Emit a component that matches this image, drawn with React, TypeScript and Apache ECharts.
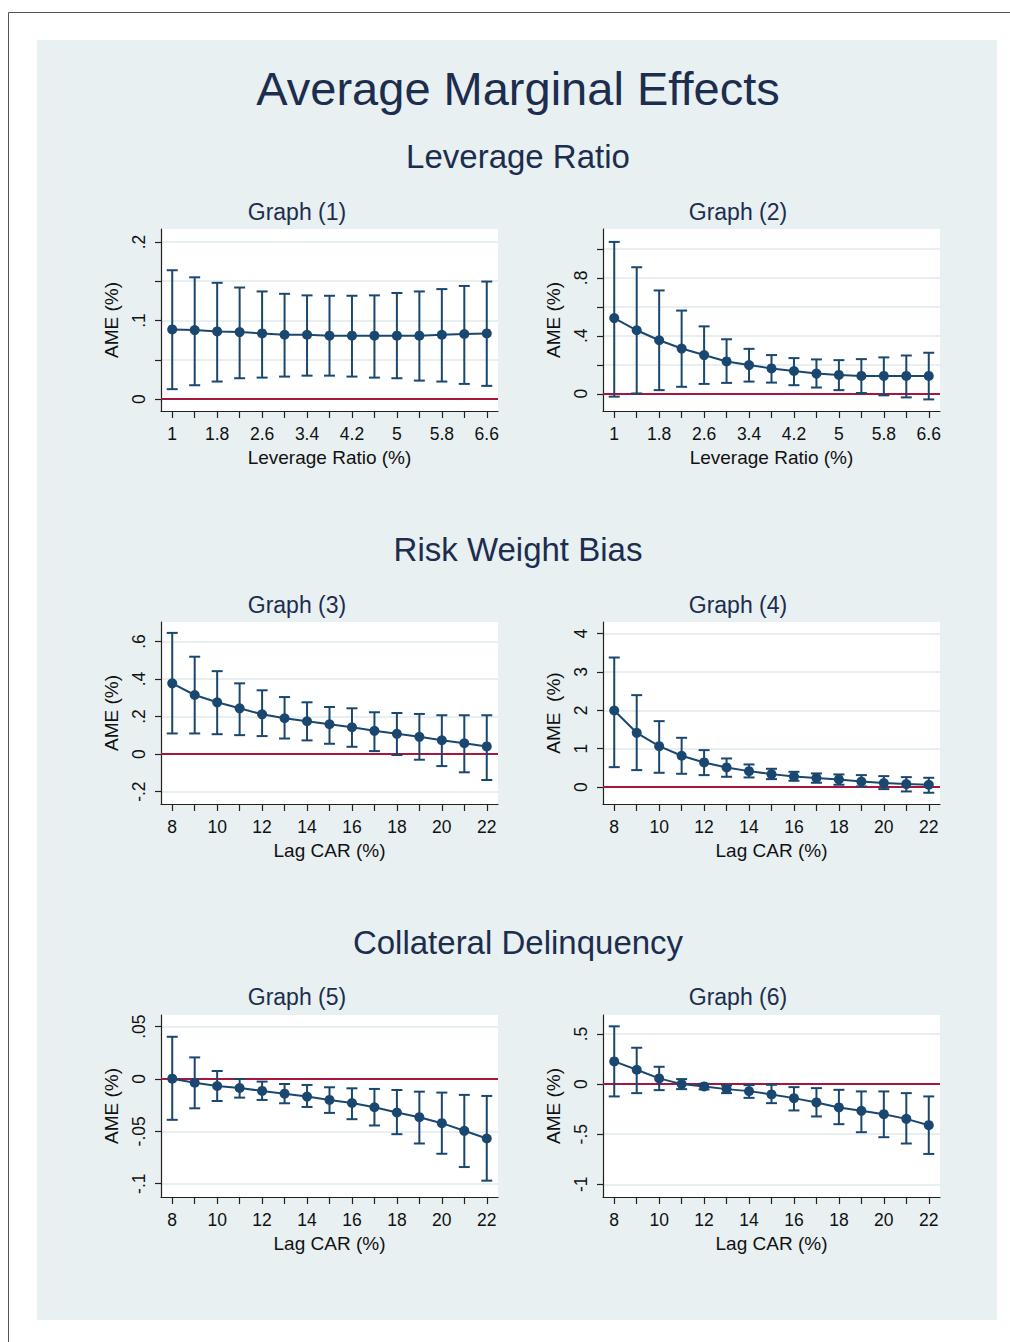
import React, { useEffect, useRef } from "react";
import * as echarts from "echarts";

// ---------- data ----------
const leverageCats = ["1", "1.4", "1.8", "2.2", "2.6", "3", "3.4", "3.8", "4.2", "4.6", "5", "5.4", "5.8", "6.2", "6.6"];
const carCats = ["8", "9", "10", "11", "12", "13", "14", "15", "16", "17", "18", "19", "20", "21", "22"];

const g1Est = [0.0887, 0.0878, 0.0861, 0.0853, 0.0836, 0.0819, 0.0819, 0.0807, 0.0807, 0.0807, 0.0807, 0.0807, 0.0819, 0.0828, 0.0836];
const g1Hi = [0.164, 0.155, 0.148, 0.142, 0.137, 0.134, 0.132, 0.1315, 0.1315, 0.132, 0.135, 0.137, 0.14, 0.144, 0.1496];
const g1Lo = [0.0126, 0.0176, 0.0223, 0.0265, 0.0273, 0.0286, 0.0298, 0.0298, 0.0286, 0.0273, 0.0265, 0.0235, 0.0223, 0.0193, 0.0168];

const g2Est = [0.522, 0.438, 0.369, 0.312, 0.267, 0.223, 0.198, 0.175, 0.157, 0.139, 0.13, 0.123, 0.123, 0.123, 0.123];
const g2Hi = [1.048, 0.873, 0.713, 0.574, 0.465, 0.376, 0.31, 0.267, 0.246, 0.237, 0.232, 0.239, 0.251, 0.264, 0.283];
const g2Lo = [-0.02, 0.002, 0.025, 0.048, 0.068, 0.075, 0.084, 0.077, 0.059, 0.043, 0.025, 0.005, -0.011, -0.025, -0.039];

const g3Est = [0.377, 0.315, 0.276, 0.244, 0.212, 0.191, 0.175, 0.159, 0.143, 0.124, 0.108, 0.092, 0.074, 0.058, 0.041];
const g3Hi = [0.646, 0.519, 0.442, 0.377, 0.34, 0.304, 0.276, 0.251, 0.244, 0.223, 0.219, 0.214, 0.207, 0.207, 0.207];
const g3Lo = [0.11, 0.11, 0.106, 0.101, 0.096, 0.083, 0.073, 0.055, 0.039, 0.016, -0.005, -0.03, -0.064, -0.097, -0.138];

const g4Est = [1.996, 1.414, 1.067, 0.816, 0.642, 0.512, 0.416, 0.338, 0.278, 0.234, 0.2, 0.147, 0.104, 0.078, 0.061];
const g4Hi = [3.375, 2.395, 1.718, 1.284, 0.963, 0.746, 0.59, 0.477, 0.399, 0.356, 0.33, 0.312, 0.286, 0.26, 0.243];
const g4Lo = [0.52, 0.443, 0.373, 0.347, 0.312, 0.269, 0.252, 0.208, 0.165, 0.113, 0.061, 0.017, -0.052, -0.113, -0.147];

const g5Est = [0.0003, -0.0035, -0.0067, -0.0086, -0.0114, -0.014, -0.0168, -0.02, -0.0229, -0.027, -0.032, -0.0365, -0.0422, -0.0495, -0.0568];
const g5Hi = [0.0403, 0.0206, 0.0076, 0.0, -0.0025, -0.0048, -0.0057, -0.0079, -0.0089, -0.0095, -0.0105, -0.0121, -0.013, -0.0152, -0.0162];
const g5Lo = [-0.039, -0.028, -0.021, -0.0178, -0.02, -0.0232, -0.0267, -0.0324, -0.0384, -0.0444, -0.0527, -0.0616, -0.0714, -0.0841, -0.0971];

const g6Est = [0.227, 0.143, 0.057, 0.0, -0.023, -0.05, -0.07, -0.103, -0.14, -0.183, -0.233, -0.267, -0.3, -0.347, -0.41];
const g6Hi = [0.577, 0.363, 0.173, 0.05, 0.003, -0.013, -0.01, -0.007, -0.03, -0.04, -0.057, -0.073, -0.073, -0.09, -0.123];
const g6Lo = [-0.123, -0.09, -0.06, -0.05, -0.053, -0.09, -0.137, -0.19, -0.263, -0.323, -0.4, -0.48, -0.53, -0.593, -0.697];

const g1Ticks = [0, 0.05, 0.1, 0.15, 0.2];
const g1Labels = [0, 0.1, 0.2];
const g2Ticks = [0, 0.2, 0.4, 0.6, 0.8, 1];
const g2Labels = [0, 0.4, 0.8];
const g3Ticks = [-0.2, 0, 0.2, 0.4, 0.6];
const g4Ticks = [0, 1, 2, 3, 4];
const g5Ticks = [-0.1, -0.05, 0, 0.05];
const g6Ticks = [-1, -0.5, 0, 0.5];

const mainTitle = "Average Marginal Effects";
const sectionTitles = ["Leverage Ratio", "Risk Weight Bias", "Collateral Delinquency"];
const graphTitles = ["Graph (1)", "Graph (2)", "Graph (3)", "Graph (4)", "Graph (5)", "Graph (6)"];
const xNames = ["Leverage Ratio (%)", "Leverage Ratio (%)", "Lag CAR (%)", "Lag CAR (%)", "Lag CAR (%)", "Lag CAR (%)"];
const yNames = ["AME (%)", "AME (%)", "AME (%)", "AME  (%)", "AME (%)", "AME (%)"];

// ---------- styling ----------
const NAVY = "#1a476f";
const RED = "#a8163c";
const GRIDC = "#e8eff1";
const TITLEC = "#1c2d4e";
const FONT = "'Liberation Sans', Arial, sans-serif";

const fmt = (v: number) => {
  const r = Math.round(v * 1000) / 1000;
  if (r === 0) return "0";
  let s = String(r);
  s = s.replace("0.", ".");
  return s;
};

type Panel = {
  cats: string[];
  est: number[];
  hi: number[];
  lo: number[];
  ticks: number[];
  labels: number[];
  min: number;
  max: number;
  left: number;
  top: number;
};

const panels: Panel[] = [
  { cats: leverageCats, est: g1Est, hi: g1Hi, lo: g1Lo, ticks: g1Ticks, labels: g1Labels, min: -0.0152, max: 0.2165, left: 161, top: 229 },
  { cats: leverageCats, est: g2Est, hi: g2Hi, lo: g2Lo, ticks: g2Ticks, labels: g2Labels, min: -0.119, max: 1.137, left: 603, top: 229 },
  { cats: carCats, est: g3Est, hi: g3Hi, lo: g3Lo, ticks: g3Ticks, labels: g3Ticks, min: -0.266, max: 0.704, left: 161, top: 622 },
  { cats: carCats, est: g4Est, hi: g4Hi, lo: g4Lo, ticks: g4Ticks, labels: g4Ticks, min: -0.44, max: 4.3, left: 603, top: 622 },
  { cats: carCats, est: g5Est, hi: g5Hi, lo: g5Lo, ticks: g5Ticks, labels: g5Ticks, min: -0.1127, max: 0.0611, left: 161, top: 1015 },
  { cats: carCats, est: g6Est, hi: g6Hi, lo: g6Lo, ticks: g6Ticks, labels: g6Ticks, min: -1.127, max: 0.69, left: 603, top: 1015 },
];

const PW = 337;
const PH = 182;

function buildOption() {
  const grid: any[] = [];
  const xAxis: any[] = [];
  const yAxis: any[] = [];
  const series: any[] = [];
  panels.forEach((p, i) => {
    grid.push({
      left: p.left,
      top: p.top,
      width: PW,
      height: PH,
      show: true,
      backgroundColor: "#ffffff",
      borderWidth: 0,
    });
    xAxis.push({
      type: "category",
      gridIndex: i,
      data: p.cats,
      boundaryGap: true,
      name: xNames[i],
      nameLocation: "middle",
      nameGap: 37,
      nameTextStyle: { fontFamily: FONT, fontSize: 19, color: "#111" },
      axisLine: { show: true, onZero: false, lineStyle: { color: "#222", width: 1.2 } },
      axisTick: { show: true, alignWithLabel: true, interval: 0, length: 7, lineStyle: { color: "#222", width: 1.2 } },
      axisLabel: { interval: 1, margin: 14, fontFamily: FONT, fontSize: 17.5, color: "#111" },
      splitLine: { show: false },
    });
    yAxis.push({
      type: "value",
      gridIndex: i,
      min: p.min,
      max: p.max,
      name: yNames[i],
      nameLocation: "middle",
      nameRotate: 90,
      nameGap: 40,
      nameTextStyle: { fontFamily: FONT, fontSize: 19, color: "#111" },
      axisLine: { show: true, onZero: false, lineStyle: { color: "#222", width: 1.2 } },
      axisTick: { show: true, length: 6, customValues: p.ticks, lineStyle: { color: "#222", width: 1.2 } },
      axisLabel: {
        rotate: 90,
        margin: 13,
        customValues: p.labels,
        formatter: (v: number) => fmt(v),
        fontFamily: FONT,
        fontSize: 17.5,
        color: "#111",
      },
      splitLine: { show: true, lineStyle: { color: GRIDC, width: 2 } },
    });
    const bars = p.cats.map((_, k) => [k, p.lo[k], p.hi[k]]);
    series.push({
      type: "custom",
      xAxisIndex: i,
      yAxisIndex: i,
      z: 3,
      data: bars,
      encode: { x: 0, y: [1, 2] },
      renderItem: (params: any, api: any) => {
        const x = api.value(0);
        const top = api.coord([x, api.value(2)]);
        const bot = api.coord([x, api.value(1)]);
        const cap = 5.5;
        const style = { stroke: NAVY, lineWidth: 2, fill: "none" };
        return {
          type: "group",
          children: [
            { type: "line", shape: { x1: top[0], y1: top[1], x2: bot[0], y2: bot[1] }, style },
            { type: "line", shape: { x1: top[0] - cap, y1: top[1], x2: top[0] + cap, y2: top[1] }, style },
            { type: "line", shape: { x1: bot[0] - cap, y1: bot[1], x2: bot[0] + cap, y2: bot[1] }, style },
          ],
        };
      },
    });
    series.push({
      type: "line",
      xAxisIndex: i,
      yAxisIndex: i,
      z: 4,
      data: p.est,
      symbol: "circle",
      symbolSize: 10,
      itemStyle: { color: NAVY },
      lineStyle: { color: NAVY, width: 2 },
      markLine: {
        silent: true,
        symbol: ["none", "none"],
        z: 2,
        label: { show: false },
        lineStyle: { color: RED, width: 2, type: "solid" },
        data: [{ yAxis: 0 }],
      },
    });
  });

  const graphic: any[] = [
    { type: "rect", left: 8, top: 12, shape: { x: 0, y: 0, width: 1040, height: 1360 }, style: { fill: "#ffffff", stroke: "#555555", lineWidth: 1 }, z: -10 },
    { type: "rect", shape: { x: 37, y: 40, width: 960, height: 1280 }, style: { fill: "#e8f0f2" }, z: -9 },
    { type: "text", x: 518, y: 88, style: { text: mainTitle, font: `47px ${FONT}`, fill: TITLEC, textAlign: "center", textVerticalAlign: "middle" } },
  ];
  const secY = [156, 549, 942];
  sectionTitles.forEach((t, k) => {
    graphic.push({ type: "text", x: 518, y: secY[k], style: { text: t, font: `33px ${FONT}`, fill: TITLEC, textAlign: "center", textVerticalAlign: "middle" } });
  });
  const gY = [212, 212, 605, 605, 997, 997];
  const gX = [297, 738, 297, 738, 297, 738];
  graphTitles.forEach((t, k) => {
    graphic.push({ type: "text", x: gX[k], y: gY[k], style: { text: t, font: `23px ${FONT}`, fill: TITLEC, textAlign: "center", textVerticalAlign: "middle" } });
  });

  return {
    animation: false,
    backgroundColor: "#ffffff",
    grid,
    xAxis,
    yAxis,
    series,
    graphic,
  };
}

export default function App() {
  const ref = useRef<HTMLDivElement>(null);
  useEffect(() => {
    document.body.style.margin = "0";
    document.body.style.overflow = "hidden";
    if (!ref.current) return;
    const chart = echarts.init(ref.current, undefined, { renderer: "svg" });
    chart.setOption(buildOption() as any);
    return () => chart.dispose();
  }, []);
  return <div ref={ref} style={{ position: "absolute", left: 0, top: 0, width: 1010, height: 1342 }} />;
}
